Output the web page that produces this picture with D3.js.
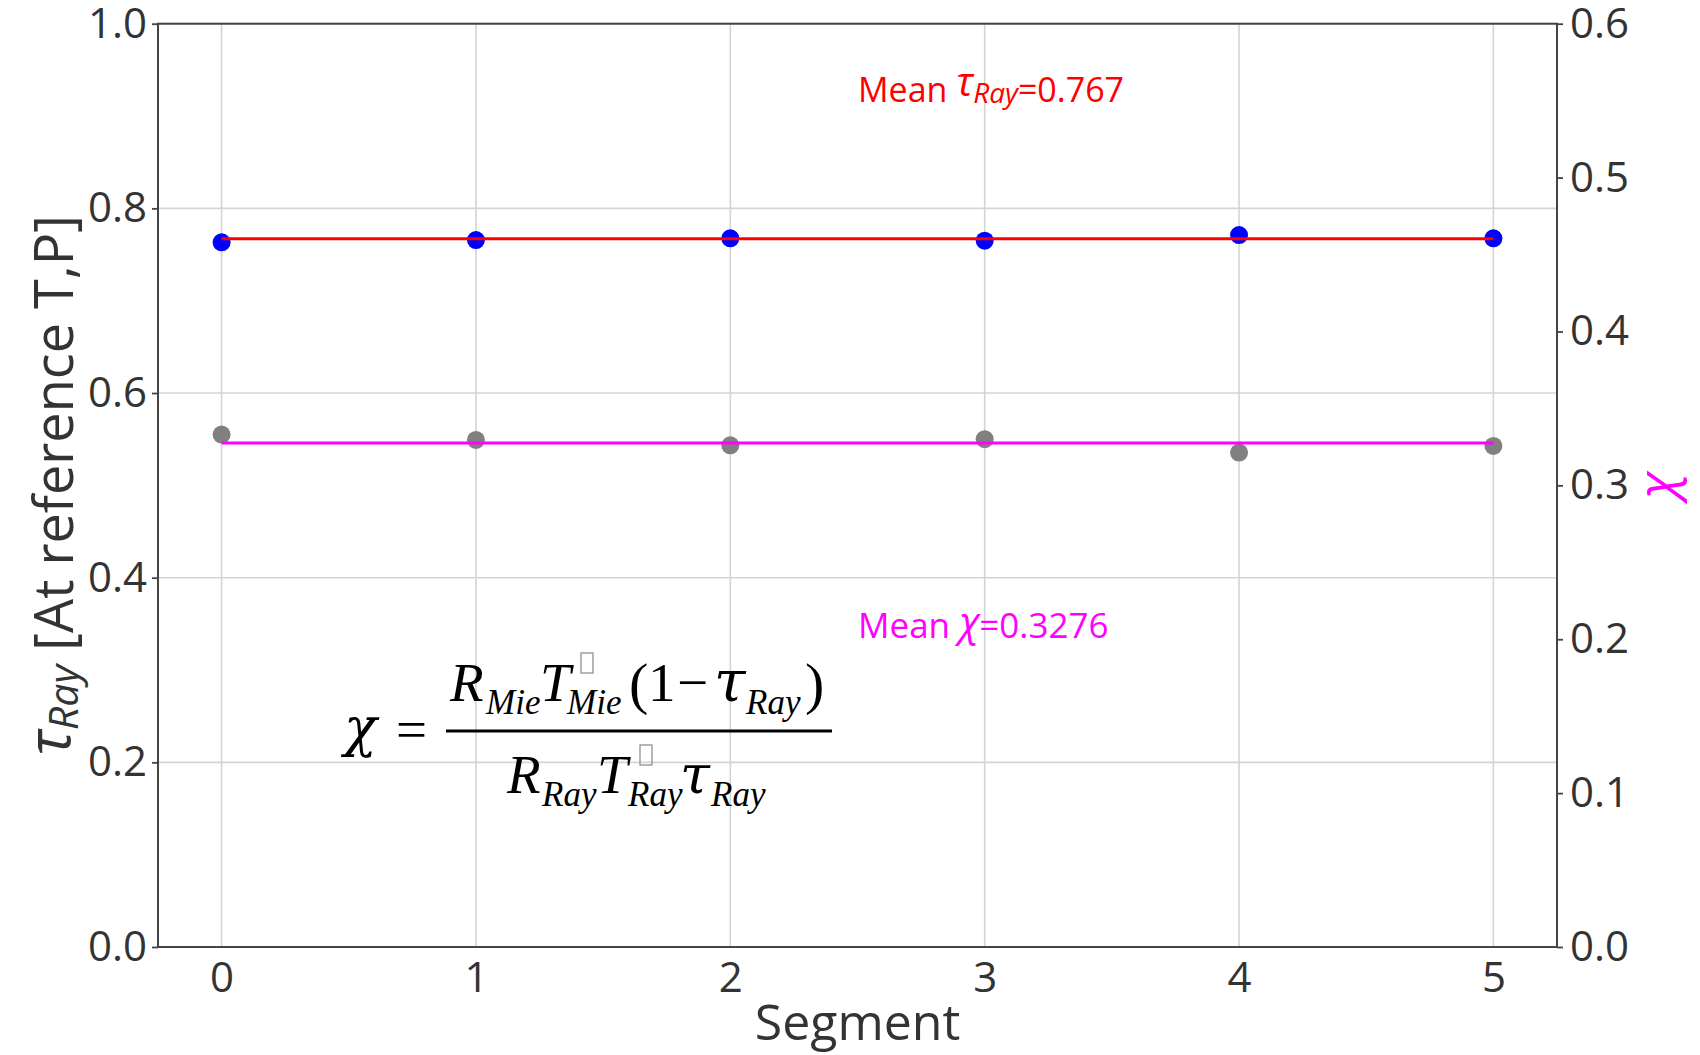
<!DOCTYPE html>
<html>
<head>
<meta charset="utf-8">
<script src="https://cdn.jsdelivr.net/npm/d3@7"></script>
<style>
  html, body { margin: 0; padding: 0; background: #fff; }
  svg { display: block; }
</style>
</head>
<body>
<svg id="chart" width="1700" height="1055"></svg>
<script>
// ---- data ----
const segments = [0, 1, 2, 3, 4, 5];
const tauRay = [0.7632, 0.7657, 0.7675, 0.7650, 0.7711, 0.7675];
const chiVals = [0.3330, 0.3295, 0.3260, 0.3300, 0.3213, 0.3256];
const meanTau = [0.767];
const meanChi = [0.3276];
const leftTicks = [0.0, 0.2, 0.4, 0.6, 0.8, 1.0];
const rightTicks = [0.0, 0.1, 0.2, 0.3, 0.4, 0.5, 0.6];
const xTicks = [0, 1, 2, 3, 4, 5];

// ---- layout ----
const L = 158, R = 1557, T = 23.7, B = 947;
const svg = d3.select("#chart");
const sansFont = "'Open Sans', 'Noto Sans', sans-serif";
const serifFont = "'Liberation Serif', 'Times New Roman', serif";
const greekSerif = "'DejaVu Serif', 'Liberation Serif', serif";

const x = d3.scaleLinear().domain([-0.25, 5.25]).range([L, R]);
const yL = d3.scaleLinear().domain([0, 1]).range([B, T]);
const yR = d3.scaleLinear().domain([0, 0.6]).range([B, T]);

// grid
svg.append("g").selectAll("line").data(leftTicks).join("line")
  .attr("x1", L).attr("x2", R)
  .attr("y1", d => yL(d)).attr("y2", d => yL(d))
  .attr("stroke", "#d4d4d4").attr("stroke-width", 1.6);
svg.append("g").selectAll("line").data(xTicks).join("line")
  .attr("x1", d => x(d)).attr("x2", d => x(d))
  .attr("y1", T).attr("y2", B)
  .attr("stroke", "#d4d4d4").attr("stroke-width", 1.6);

// tau points + mean line
svg.append("g").selectAll("circle").data(segments).join("circle")
  .attr("cx", d => x(d)).attr("cy", (d, i) => yL(tauRay[i]))
  .attr("r", 9).attr("fill", "#0000ff");
svg.append("line")
  .attr("x1", x(segments[0])).attr("x2", x(segments[segments.length - 1]))
  .attr("y1", yL(meanTau[0])).attr("y2", yL(meanTau[0]))
  .attr("stroke", "#ff0000").attr("stroke-width", 3);

// chi points + mean line
svg.append("g").selectAll("circle").data(segments).join("circle")
  .attr("cx", d => x(d)).attr("cy", (d, i) => yR(chiVals[i]))
  .attr("r", 9).attr("fill", "#808080");
svg.append("line")
  .attr("x1", x(segments[0])).attr("x2", x(segments[segments.length - 1]))
  .attr("y1", yR(meanChi[0])).attr("y2", yR(meanChi[0]))
  .attr("stroke", "#ff00ff").attr("stroke-width", 3);

// axes
function styleAxis(g) {
  g.select(".domain").remove();
  g.selectAll(".tick line").attr("stroke", "#444").attr("stroke-width", 1.8);
  g.selectAll(".tick text").attr("fill", "#333").style("font-family", sansFont).style("font-size", "42px");
}
svg.append("g").attr("transform", `translate(${L},0)`)
  .call(d3.axisLeft(yL).tickValues(leftTicks).tickFormat(d3.format(".1f")).tickSize(6).tickPadding(5))
  .call(styleAxis);
svg.append("g").attr("transform", `translate(${R},0)`)
  .call(d3.axisRight(yR).tickValues(rightTicks).tickFormat(d3.format(".1f")).tickSize(6).tickPadding(7))
  .call(styleAxis);
svg.append("g").attr("transform", `translate(0,${B})`)
  .call(d3.axisBottom(x).tickValues(xTicks).tickFormat(d3.format("d")).tickSize(0).tickPadding(15))
  .call(styleAxis);

// spines
svg.append("rect").attr("x", L).attr("y", T).attr("width", R - L).attr("height", B - T)
  .attr("fill", "none").attr("stroke", "#444").attr("stroke-width", 2);

// axis labels
svg.append("text").attr("x", (L + R) / 2).attr("y", 1040)
  .attr("text-anchor", "middle").attr("fill", "#333")
  .style("font-family", sansFont).style("font-size", "50px").text("Segment");

const yl = svg.append("text").attr("transform", `translate(73,${(T + B) / 2}) rotate(-90)`)
  .attr("text-anchor", "middle").attr("fill", "#333")
  .style("font-family", sansFont).style("font-size", "54px");
yl.append("tspan").attr("font-style", "italic").style("font-size", "60px").attr("dy", -3).text("τ");
yl.append("tspan").attr("font-style", "italic").style("font-size", "41px").attr("dy", 8).text("Ray");
yl.append("tspan").attr("dy", -5).text(" [At reference T,P]");

svg.append("text").attr("transform", `translate(1675,${(T + B) / 2}) rotate(-90)`)
  .attr("text-anchor", "middle").attr("fill", "#ff00ff")
  .style("font-family", sansFont).style("font-size", "52px").attr("font-style", "italic").text("χ");

// annotations
const a1 = svg.append("text").attr("x", 858).attr("y", 102).attr("fill", "#ff0000")
  .style("font-family", sansFont).style("font-size", "34px");
a1.append("tspan").text("Mean ");
a1.append("tspan").attr("font-style", "italic").style("font-size", "40px").attr("dy", -6).text("τ");
a1.append("tspan").attr("font-style", "italic").style("font-size", "28px").attr("dy", 7).text("Ray");
a1.append("tspan").attr("dy", -1).text("=" + d3.format(".3f")(meanTau[0]));

const a2 = svg.append("text").attr("x", 858).attr("y", 638).attr("fill", "#ff00ff")
  .style("font-family", sansFont).style("font-size", "35px");
a2.append("tspan").text("Mean ");
a2.append("tspan").attr("font-style", "italic").style("font-size", "40px").attr("dy", -2).text("χ");
a2.append("tspan").attr("dy", 2).text("=" + d3.format(".4f")(meanChi[0]));

// formula
const f = svg.append("g").attr("fill", "#000");
function ft(xp, yp, s, size, italic, fam) {
  f.append("text").attr("x", xp).attr("y", yp).style("font-size", size + "px")
    .style("font-family", fam || serifFont)
    .attr("font-style", italic ? "italic" : "normal").text(s);
}
function box(xp, yp) {
  f.append("rect").attr("x", xp).attr("y", yp).attr("width", 12).attr("height", 20)
    .attr("fill", "none").attr("stroke", "#888").attr("stroke-width", 1.2);
}
ft(344, 746, "χ", 54, true, greekSerif);
ft(396, 748, "=", 55, false);
f.append("line").attr("x1", 446).attr("x2", 832).attr("y1", 731).attr("y2", 731)
  .attr("stroke", "#000").attr("stroke-width", 3);
// numerator
ft(450, 701, "R", 55, true);
ft(486, 714, "Mie", 35, true);
ft(540, 701, "T", 55, true);
box(581, 653);
ft(567, 714, "Mie", 35, true);
ft(629, 703, "(", 58, false);
ft(648, 701, "1", 55, false);
ft(677, 701, "−", 55, false);
ft(714, 701, "τ", 57, true, greekSerif);
ft(746, 714, "Ray", 35, true);
ft(805, 703, ")", 58, false);
// denominator
ft(507, 793, "R", 55, true);
ft(542, 806, "Ray", 35, true);
ft(597, 793, "T", 55, true);
box(640, 745);
ft(628, 806, "Ray", 35, true);
ft(680, 793, "τ", 54, true, greekSerif);
ft(711, 806, "Ray", 35, true);
</script>
</body>
</html>
